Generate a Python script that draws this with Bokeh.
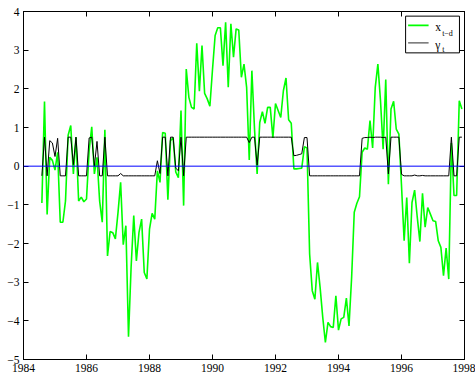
import numpy as np
from bokeh.plotting import figure
from bokeh.models import LinearAxis, Span, Label, FixedTicker, Range1d
from bokeh.embed import file_html
from bokeh.resources import INLINE

# Monthly observations of the lagged transition variable, Aug 1984 onward
x_lag = [
    -0.95, 1.67, -1.25, 0.23, 0.15, -0.10, 0.36, -1.45, -1.45, -0.90,
    0.80, 1.05, -0.20, 0.75, -0.90, -0.80, -0.92, -0.85, 0.40, 1.02,
    -0.20, 0.23, -0.90, -1.45, 0.94, -2.32, -1.69, -1.72, -1.88, -1.20,
    -0.42, -2.03, -1.54, -4.41, -2.60, -1.28, -2.45, -1.71, -1.37, -2.75,
    -2.92, -1.63, -1.22, -1.37, -0.12, -0.42, 0.87, 0.85, -0.87, 0.66,
    0.74, -0.15, -0.30, 1.44, -1.02, 2.51, 1.78, 1.52, 1.48, 3.18,
    1.94, 3.12, 1.88, 1.74, 1.55, 2.50, 3.38, 3.58, 3.58, 2.60,
    3.72, 2.04, 3.68, 2.82, 3.55, 3.52, 2.30, 2.64, 2.04, 0.16,
    2.47, 0.97, -0.20, 1.13, 1.41, 1.11, 1.52, 1.52, 0.73, 1.62,
    1.44, 1.26, 1.95, 2.28, 1.20, 1.11, -0.07, -0.07, -0.06, -0.05,
    0.50, 0.47, -2.27, -3.22, -3.44, -2.49, -3.14, -3.91, -4.56, -4.04,
    -4.15, -4.17, -3.35, -4.24, -3.95, -3.91, -3.41, -4.13, -2.88, -1.19,
    -0.96, -0.79, 0.36, 0.47, 0.44, 1.18, 0.47, 2.04, 2.64, 1.69,
    0.44, 2.24, -0.47, 1.48, 1.68, 0.96, 0.83, -0.50, -1.93, -0.81,
    -2.51, -0.94, -0.62, -1.32, -1.95, -0.70, -1.58, -1.07, -1.24, -1.41,
    -1.43, -1.93, -2.10, -2.83, -2.12, -2.92, 0.60, -0.76, -0.76, 1.69,
    1.48,
]

# Transition weights for the same months
gamma = [
    -0.25, 0.75, -0.25, 0.66, 0.60, 0.25, 0.72, -0.25, -0.25, -0.25,
    0.75, 0.75, 0.04, 0.75, -0.25, -0.25, -0.25, -0.25, 0.73, 0.75,
    0.00, 0.64, -0.25, -0.25, 0.75, -0.25, -0.25, -0.25, -0.25, -0.25,
    -0.19, -0.25, -0.25, -0.25, -0.25, -0.25, -0.25, -0.25, -0.25, -0.25,
    -0.25, -0.25, -0.25, -0.25, 0.14, -0.19, 0.75, 0.75, -0.25, 0.75,
    0.75, -0.05, -0.12, 0.75, -0.25, 0.75, 0.75, 0.75, 0.75, 0.75,
    0.75, 0.75, 0.75, 0.75, 0.75, 0.75, 0.75, 0.75, 0.75, 0.75,
    0.75, 0.75, 0.75, 0.75, 0.75, 0.75, 0.75, 0.75, 0.75, 0.61,
    0.75, 0.75, 0.03, 0.75, 0.75, 0.75, 0.75, 0.75, 0.75, 0.75,
    0.75, 0.75, 0.75, 0.75, 0.75, 0.75, 0.27, 0.28, 0.30, 0.32,
    0.74, 0.74, -0.25, -0.25, -0.25, -0.25, -0.25, -0.25, -0.25, -0.25,
    -0.25, -0.25, -0.25, -0.25, -0.25, -0.25, -0.25, -0.25, -0.25, -0.25,
    -0.25, -0.25, 0.72, 0.74, 0.74, 0.75, 0.74, 0.75, 0.75, 0.75,
    0.74, 0.75, -0.20, 0.75, 0.75, 0.75, 0.75, -0.21, -0.25, -0.25,
    -0.25, -0.25, -0.23, -0.25, -0.25, -0.24, -0.25, -0.25, -0.25, -0.25,
    -0.25, -0.25, -0.25, -0.25, -0.25, -0.25, 0.75, -0.25, -0.25, 0.75,
    0.75,
]

start_year = 1984 + 7 / 12

x_ticks = [1984, 1986, 1988, 1990, 1992, 1994, 1996, 1998]
x_tick_labels = ["1984", "1986", "1988", "1990", "1992", "1994", "1996", "1998"]
y_ticks = [-5, -4, -3, -2, -1, 0, 1, 2, 3, 4]
y_tick_labels = ["\u22125", "\u22124", "\u22123", "\u22122", "\u22121", "0", "1", "2", "3", "4"]

t = start_year + np.arange(len(x_lag)) / 12

FONT = "Liberation Serif"

p = figure(
    width=475, height=379,
    x_range=Range1d(1984, 1998), y_range=Range1d(-5, 4),
    output_backend="svg", toolbar_location=None,
    min_border_left=23, min_border_right=11,
    min_border_top=11, min_border_bottom=20,
)
p.background_fill_color = "white"
p.border_fill_color = "white"
p.outline_line_color = "black"
p.outline_line_width = 1
p.xgrid.grid_line_color = None
p.ygrid.grid_line_color = None


def style_axis(ax, ticks, labels, show_labels):
    ax.ticker = FixedTicker(ticks=ticks)
    ax.axis_line_color = "black"
    ax.axis_line_width = 1
    ax.major_tick_in = 5
    ax.major_tick_out = 0
    ax.major_tick_line_color = "black"
    ax.minor_tick_line_color = None
    if show_labels:
        ax.major_label_overrides = {v: s for v, s in zip(ticks, labels)}
        ax.major_label_text_font = FONT
        ax.major_label_text_font_size = "11.5px"
        ax.major_label_text_color = "black"
        ax.major_label_standoff = 4
    else:
        ax.major_label_overrides = {v: "" for v in ticks}
        ax.major_label_text_font_size = "1px"
        ax.major_label_standoff = 0


style_axis(p.xaxis[0], x_ticks, x_tick_labels, True)
style_axis(p.yaxis[0], y_ticks, y_tick_labels, True)

top_axis = LinearAxis()
right_axis = LinearAxis()
style_axis(top_axis, x_ticks, x_tick_labels, False)
style_axis(right_axis, y_ticks, y_tick_labels, False)
p.add_layout(top_axis, "above")
p.add_layout(right_axis, "right")

# series
p.line(t, x_lag, line_color="#00ff00", line_width=1.6)
p.line(t, gamma, line_color="black", line_width=1.0)
p.add_layout(Span(location=0, dimension="width", line_color="#0000ff", line_width=1))

# legend box with sub-scripted labels
p.quad(left=[1996.13], right=[1997.84], bottom=[2.93], top=[3.88],
       fill_color="white", fill_alpha=1.0, line_color="black", line_width=1)
p.segment(x0=[1996.21], x1=[1996.86], y0=[3.64], y1=[3.64],
          line_color="#00ff00", line_width=1.6)
p.segment(x0=[1996.21], x1=[1996.86], y0=[3.19], y1=[3.19],
          line_color="#555555", line_width=1.2)

for txt, x, y, size in [
    ("x", 1997.07, 3.59, "11.5px"),
    ("t\u2212d", 1997.29, 3.43, "8px"),
    ("\u03b3", 1997.07, 3.14, "11.5px"),
    ("t", 1997.29, 3.02, "8px"),
]:
    p.add_layout(Label(x=x, y=y, text=txt, text_font=FONT, text_font_size=size,
                       text_color="black", text_baseline="alphabetic"))

open("out.html", "w").write(file_html(p, INLINE))
